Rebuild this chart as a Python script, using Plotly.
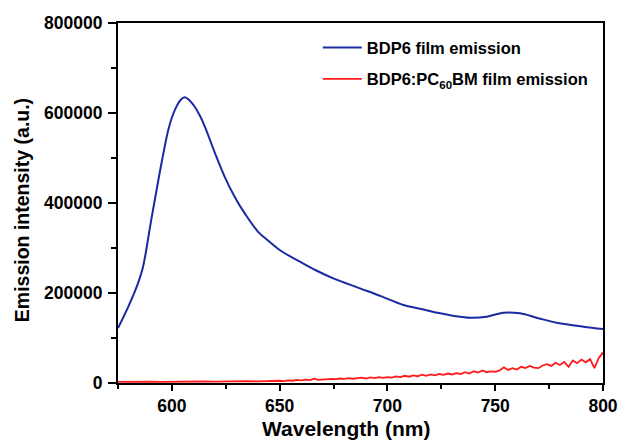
import plotly.graph_objects as go

# Blue: BDP6 film emission
blue_wl = [575, 580, 584.3, 586.6, 590.4, 594.3, 598.2, 600, 602, 604, 606, 608, 610.6,
           613, 615.2, 619.9, 624.5, 629.1, 633.8, 640, 645, 650, 659.4, 667, 674.9,
           687.3, 697, 707.4, 715, 724.4, 731, 738.3, 746, 753.7, 761.5, 770, 778.5,
           790.9, 800]
blue_val = [122000, 172000, 222000, 258000, 362000, 466000, 560000, 590000, 613000,
            629000, 635000, 629000, 614000, 594000, 571000, 512000, 458000, 414000,
            377000, 336000, 315000, 295500, 269600, 250000, 232600, 210400, 193000,
            173300, 165000, 154800, 149000, 145100, 147300, 156200, 154800, 144000,
            134000, 125100, 120000]

# Red: BDP6:PC60BM film emission
red_wl = [575, 580, 585, 590, 595, 600, 605, 610, 615, 620, 625, 630, 635, 640, 645,
          650, 652, 654, 656, 658, 660, 662, 664, 666, 668, 670, 672, 674, 676, 678,
          680, 682, 684, 686, 688, 690, 692, 694, 696, 698, 700, 702, 704, 706, 708,
          710, 712, 714, 716, 718, 720, 722, 724, 726, 728, 730, 732, 734, 736, 738,
          740, 742, 744, 746, 748, 750, 752, 754, 756, 758, 760, 762, 764, 766, 768,
          770, 772, 774, 776, 778, 780, 782, 784, 786, 788, 790, 792, 794, 796, 798, 800]
red_val = [2500, 3000, 2500, 3200, 2600, 3000, 3500, 2800, 3300, 3000, 3600, 3200, 4000, 3700, 4600,
           5000, 4200, 6000, 5000, 7000, 5800, 7500, 6500, 9500, 7000, 8000, 7500, 9000, 8500, 10000,
           9000, 11000, 9500, 10500, 12000, 10000, 12500, 11000, 13000, 11500, 13000, 12000, 14500, 13000, 16000,
           14000, 17000, 15000, 18500, 16000, 19000, 17000, 20000, 18000, 21000, 19000, 22000, 20000, 24000, 21000,
           26000, 23000, 28000, 24000, 26000, 25000, 28000, 35000, 29000, 33000, 30000, 36000, 33000, 38000, 34000,
           33000, 39000, 42000, 38000, 45000, 40000, 47000, 36000, 50000, 44000, 52000, 46000, 53000, 33000, 55000, 68000]

x_ticks = [600, 650, 700, 750, 800]
y_ticks = [0, 200000, 400000, 600000, 800000]
x_title = "Wavelength (nm)"
y_title = "Emission intensity (a.u.)"

FONT = "Liberation Sans, Arial, sans-serif"

fig = go.Figure()
fig.add_trace(go.Scatter(x=blue_wl, y=blue_val, mode="lines", name="BDP6 film emission",
                         legendgroup="a",
                         line=dict(color="#1a2aa3", width=2, shape="spline", smoothing=1.0)))
fig.add_trace(go.Scatter(x=red_wl, y=red_val, mode="lines", name="BDP6:PC<sub>60</sub>BM film emission",
                         legendgroup="b",
                         line=dict(color="#ff1a1a", width=1.8)))

axis_common = dict(showline=True, linecolor="black", linewidth=2, mirror=True,
                   ticks="outside", tickwidth=2, tickcolor="black",
                   showgrid=False, zeroline=False, automargin=False,
                   tickfont=dict(family=FONT, size=17.5, color="black", weight="bold"))

fig.update_xaxes(range=[575, 800], tickvals=x_ticks, ticklen=6, ticklabelstandoff=0,
                 minor=dict(ticks="outside", ticklen=4, tickwidth=2, tickcolor="black", dtick=25, tick0=575),
                 **axis_common)
fig.update_yaxes(range=[0, 800000], tickvals=y_ticks, tickformat="d", ticklen=8, ticklabelstandoff=2,
                 minor=dict(ticks="outside", ticklen=5, tickwidth=2, tickcolor="black", dtick=100000, tick0=0),
                 **axis_common)

fig.add_annotation(text=x_title, xref="paper", yref="paper", x=0.47, y=-0.125,
                   xanchor="center", yanchor="middle", showarrow=False,
                   font=dict(family=FONT, size=21, color="black", weight="bold"))
fig.add_annotation(text=y_title, xref="paper", yref="paper", x=-0.198, y=0.48,
                   xanchor="center", yanchor="middle", showarrow=False, textangle=-90,
                   font=dict(family=FONT, size=19.5, color="black", weight="bold"))

fig.update_layout(width=620, height=441, margin=dict(l=118, r=17, t=23, b=58),
                  paper_bgcolor="white", plot_bgcolor="white",
                  legend=dict(x=0.412, y=0.98, xanchor="left", yanchor="top",
                              bgcolor="rgba(0,0,0,0)", itemwidth=39, tracegroupgap=7,
                              traceorder="grouped",
                              font=dict(family=FONT, size=16.5, color="black", weight="bold")),
                  showlegend=True)

fig.write_html("out.html")
